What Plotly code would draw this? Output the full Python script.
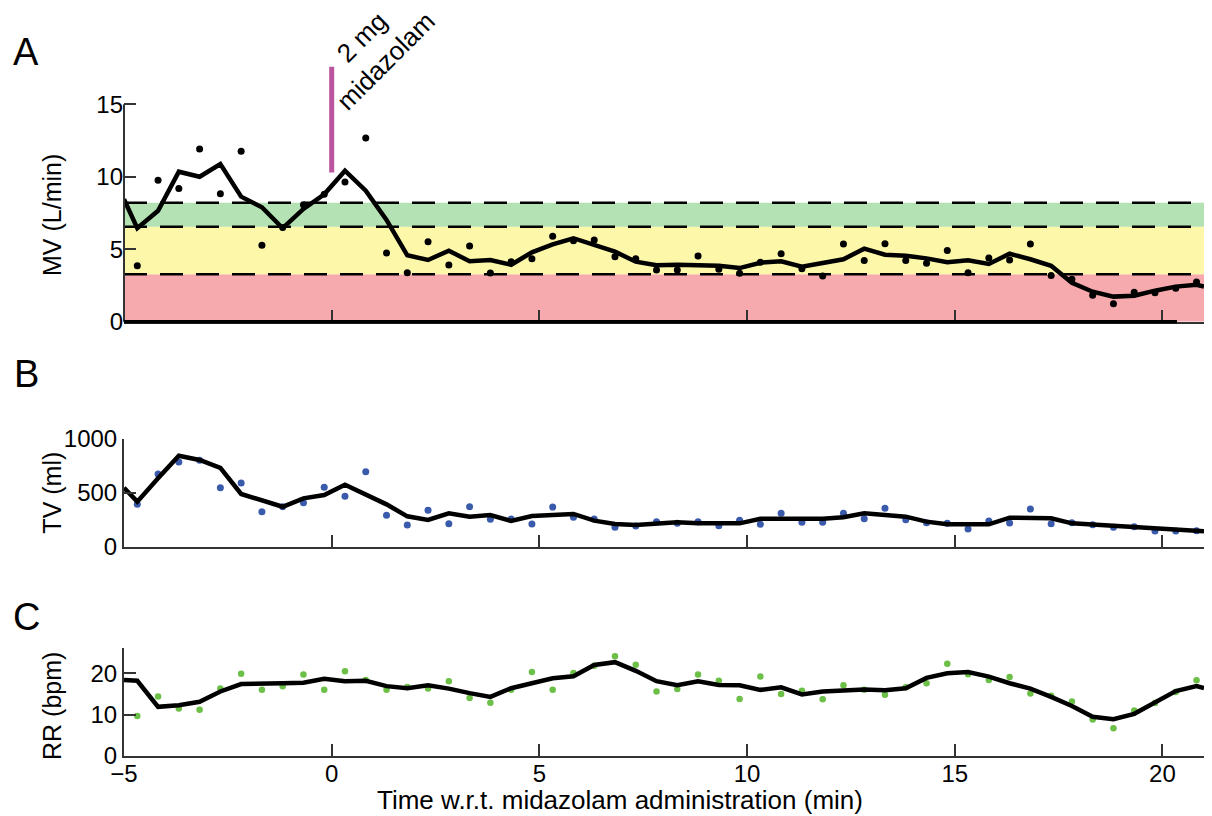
import plotly.graph_objects as go

# ---------------- data ----------------
t_pts = [-4.68, -4.18, -3.68, -3.18, -2.68, -2.18, -1.68, -1.18, -0.68, -0.18,
         0.32, 0.82, 1.32, 1.82, 2.32, 2.82, 3.32, 3.82, 4.32, 4.82,
         5.32, 5.82, 6.32, 6.82, 7.32, 7.82, 8.32, 8.82, 9.32, 9.82,
         10.32, 10.82, 11.32, 11.82, 12.32, 12.82, 13.32, 13.82, 14.32, 14.82,
         15.32, 15.82, 16.32, 16.82, 17.32, 17.82, 18.32, 18.82, 19.32, 19.82,
         20.32, 20.82]
t_line = [-5.0, -4.68, -4.18, -3.68, -3.18, -2.68, -2.18, -1.68, -1.18, -0.68, -0.18,
          0.32, 0.82, 1.32, 1.82, 2.32, 2.82, 3.32, 3.82, 4.32, 4.82,
          5.32, 5.82, 6.32, 6.82, 7.32, 7.82, 8.32, 8.82, 9.32, 9.82,
          10.32, 10.82, 11.32, 11.82, 12.32, 12.82, 13.32, 13.82, 14.32, 14.82,
          15.32, 15.82, 16.32, 16.82, 17.32, 17.82, 18.32, 18.82, 19.32, 19.82,
          20.32, 20.82, 21.0]

mv_pts = [3.86, 9.76, 9.2, 11.92, 8.83, 11.76, 5.27, 6.5, 8.07, 8.8,
          9.64, 12.68, 4.74, 3.37, 5.52, 3.91, 5.22, 3.36, 4.14, 4.35,
          5.89, 5.59, 5.64, 4.49, 4.35, 3.57, 3.57, 4.53, 3.62, 3.34,
          4.1, 4.69, 3.65, 3.15, 5.36, 4.23, 5.38, 4.23, 4.03, 4.92,
          3.38, 4.39, 4.26, 5.36, 3.18, 2.93, 1.82, 1.24, 2.03, 2.0,
          2.30, 2.74]
mv_line = [8.45, 6.45, 7.66, 10.35, 10.0, 10.88, 8.63, 7.9, 6.45, 7.78, 8.79,
           10.42, 9.04, 7.02, 4.58, 4.26, 4.9, 4.17, 4.26, 3.93, 4.79,
           5.34, 5.76, 5.27, 4.83, 4.14, 3.89, 3.93, 3.93, 3.86, 3.7,
           4.07, 4.17, 3.8, 4.05, 4.31, 5.04, 4.62, 4.55, 4.37, 4.1,
           4.24, 3.98, 4.69, 4.31, 3.86, 2.69, 2.07, 1.73, 1.79, 2.14,
           2.42, 2.55, 2.42]

tv_pts = [393, 673, 784, 800, 546, 590, 324, 370, 407, 550,
          466, 694, 290, 200, 337, 213, 370, 254, 256, 210,
          367, 272, 256, 179, 191, 232, 216, 232, 195, 244,
          207, 309, 226, 226, 309, 259, 355, 250, 222, 216,
          164, 238, 219, 349, 213, 222, 204, 179, 185, 145,
          145, 148]
tv_line = [546, 417, 633, 843, 803, 731, 488, 432, 370, 448, 479,
           574, 485, 392, 281, 247, 309, 278, 293, 238, 284,
           290, 303, 241, 210, 201, 216, 226, 216, 219, 216,
           259, 259, 258, 259, 272, 309, 293, 278, 232, 207,
           207, 207, 269, 263, 263, 216, 204, 191, 179, 161,
           148, 145, 142]

rr_pts = [9.7, 14.4, 11.5, 11.2, 16.3, 19.9, 16.0, 16.9, 19.7, 16.0,
          20.5, 18.4, 16.0, 16.7, 16.3, 18.1, 14.0, 12.9, 16.0, 20.3,
          16.0, 20.1, 21.8, 24.1, 22.1, 15.6, 16.2, 19.7, 18.2, 13.8,
          19.2, 15.0, 15.8, 13.7, 17.1, 16.0, 14.8, 16.6, 17.6, 22.3,
          19.8, 18.4, 19.1, 15.1, 14.6, 13.2, 8.8, 6.7, 11.0, 12.8,
          15.5, 18.3]
rr_line = [18.4, 18.2, 11.9, 12.3, 13.1, 15.6, 17.4, 17.6, 17.6, 17.7, 18.7,
           18.1, 18.2, 16.9, 16.4, 17.1, 16.3, 15.2, 14.3, 16.4, 17.6,
           18.8, 19.3, 22.0, 22.7, 20.6, 18.1, 17.1, 18.1, 17.2, 17.1,
           16.0, 16.6, 14.9, 15.6, 15.8, 16.1, 15.9, 16.4, 18.9, 20.0,
           20.3, 19.2, 17.6, 16.3, 14.3, 12.1, 9.5, 8.9, 10.2, 13.1,
           15.7, 16.9, 16.4]

mv_thresholds = [0, 3.28, 6.56, 8.2]
band_colors = ["#f7aaae", "#fdf7aa", "#b5e2b5"]
x_ticks = [-5, 0, 5, 10, 15, 20]
mv_ticks = [0, 5, 10, 15]
tv_ticks = [0, 500, 1000]
rr_ticks = [0, 10, 20]
dose_time = 0
dose_span = [10.3, 17.6]

# ---------------- layout geometry ----------------
X_RANGE = [-5, 21]
DOM_A = [0.5956, 0.9452]
DOM_B = [0.2940, 0.4387]
DOM_C = [0.0134, 0.1586]
RANGE_A = [0, 18]
RANGE_B = [0, 1000]
RANGE_C = [0, 26.2]
FONT = "Liberation Sans, Arial, Helvetica, sans-serif"
AX_COL = "#333333"


def fy_a(v):
    return DOM_A[0] + (v - RANGE_A[0]) / (RANGE_A[1] - RANGE_A[0]) * (DOM_A[1] - DOM_A[0])


def fx(t):
    return (t - X_RANGE[0]) / (X_RANGE[1] - X_RANGE[0])


fig = go.Figure()

# Panel A
fig.add_trace(go.Scatter(x=t_pts, y=mv_pts, mode="markers",
                         marker=dict(color="black", size=7), xaxis="x", yaxis="y"))
fig.add_trace(go.Scatter(x=t_line, y=mv_line, mode="lines",
                         line=dict(color="black", width=4.5), xaxis="x", yaxis="y"))
# Panel B
fig.add_trace(go.Scatter(x=t_pts, y=tv_pts, mode="markers",
                         marker=dict(color="#3a5bab", size=7), xaxis="x2", yaxis="y2"))
fig.add_trace(go.Scatter(x=t_line, y=tv_line, mode="lines",
                         line=dict(color="black", width=4.5), xaxis="x2", yaxis="y2"))
# Panel C
fig.add_trace(go.Scatter(x=t_pts, y=rr_pts, mode="markers",
                         marker=dict(color="#6cbf47", size=6.5), xaxis="x3", yaxis="y3"))
fig.add_trace(go.Scatter(x=t_line, y=rr_line, mode="lines",
                         line=dict(color="black", width=4.5), xaxis="x3", yaxis="y3"))

shapes = []
# colored bands
for i, col in enumerate(band_colors):
    shapes.append(dict(type="rect", xref="x", yref="y", x0=X_RANGE[0], x1=X_RANGE[1],
                       y0=mv_thresholds[i], y1=mv_thresholds[i + 1],
                       fillcolor=col, line=dict(width=0), layer="below"))
# dashed threshold lines
for v in mv_thresholds[1:]:
    shapes.append(dict(type="line", xref="x", yref="y", x0=X_RANGE[0], x1=X_RANGE[1],
                       y0=v, y1=v, line=dict(color="black", width=2.5, dash="23px,13px"),
                       layer="below"))
# dose marker
shapes.append(dict(type="line", xref="x", yref="y", x0=dose_time, x1=dose_time,
                   y0=dose_span[0], y1=dose_span[1],
                   line=dict(color="#bb55a0", width=5)))
# panel A y axis line (0..15 only)
shapes.append(dict(type="line", xref="paper", yref="paper", x0=0, x1=0,
                   y0=fy_a(0), y1=fy_a(15), line=dict(color=AX_COL, width=2)))
# panel A thick black bottom axis
shapes.append(dict(type="line", xref="paper", yref="paper", x0=0, x1=fx(20.35),
                   y0=DOM_A[0], y1=DOM_A[0], line=dict(color="black", width=3.5)))


def xax(anchor, labels):
    return dict(domain=[0, 1], range=X_RANGE, anchor=anchor, showline=True,
                linecolor=AX_COL, linewidth=2, ticks="inside", ticklen=12,
                tickwidth=2, tickcolor=AX_COL, tickvals=x_ticks,
                showticklabels=labels, showgrid=False, zeroline=False,
                automargin=False, ticklabelstandoff=-5,
                tickfont=dict(size=24, color="black", family=FONT))


def yax(anchor, dom, rng, ticks, line=True):
    return dict(domain=dom, range=rng, anchor=anchor, showline=line,
                linecolor=AX_COL, linewidth=2, ticks="inside", ticklen=12,
                tickwidth=2, tickcolor=AX_COL, tickvals=ticks,
                showgrid=False, zeroline=False, automargin=False,
                tickfont=dict(size=24, color="black", family=FONT))


annotations = []


def ann(text, x, y, size=24, angle=0):
    annotations.append(dict(text=text, x=x, y=y, xref="paper", yref="paper",
                            showarrow=False, textangle=angle,
                            font=dict(size=size, color="black", family=FONT),
                            xanchor="center", yanchor="middle"))


ann("MV (L/min)", -0.0667, 0.7386, 25, -90)
ann("TV (ml)", -0.0667, 0.3664, 25, -90)
ann("RR (bpm)", -0.0667, 0.0804, 25, -90)
ann("Time w.r.t. midazolam administration (min)", 0.4593, -0.0456, 26)
ann("A", -0.0907, 0.9571, 38)
ann("B", -0.0907, 0.5261, 38)
ann("C", -0.0907, 0.1997, 38)
ann("2 mg<br>midazolam", 0.2315, 0.961, 26, -45)

# page body has an 8px margin: figure is sized/offset to compensate
fig.update_layout(
    width=1204, height=808,
    autosize=False,
    margin=dict(l=116, r=8, t=12, b=50, pad=0, autoexpand=False),
    paper_bgcolor="white", plot_bgcolor="rgba(0,0,0,0)",
    showlegend=False,
    font=dict(family=FONT, size=24, color="black"),
    xaxis=xax("y", False),
    yaxis=yax("x", DOM_A, RANGE_A, mv_ticks, line=False),
    xaxis2=xax("y2", False),
    yaxis2=yax("x2", DOM_B, RANGE_B, tv_ticks),
    xaxis3=xax("y3", True),
    yaxis3=yax("x3", DOM_C, RANGE_C, rr_ticks),
    shapes=shapes,
    annotations=annotations,
)

fig.write_html("out.html")
